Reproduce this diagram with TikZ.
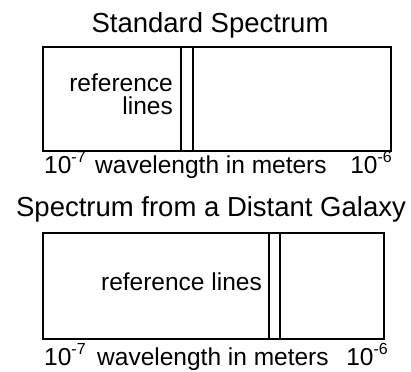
\documentclass[tikz,border=0pt]{standalone}
\usepackage{fontspec}
\setmainfont{Liberation Sans}
\usetikzlibrary{positioning}
\newcommand{\pwr}[1]{10\raisebox{0.42em}{\fontsize{16}{16}\selectfont #1}}

\begin{document}
\begin{tikzpicture}[
  x=1pt, y=-1pt,
  every node/.style={inner sep=0pt, font=\fontsize{24.5}{23}\selectfont},
  titlelbl/.style={anchor=base, font=\fontsize{27.5}{30}\selectfont},
  specbox/.style={draw, line width=2pt, anchor=north west},
  refline/.style={line width=2pt}
]
  \useasboundingbox (0,0) rectangle (411,371);

  %% Standard spectrum
  \node[titlelbl] (stdtitle) at (210,33) {Standard Spectrum};
  \node[specbox, minimum width=348pt, minimum height=104pt] (std) at (42,46) {};
  \draw[refline] (std.north -| 181,0)   -- (std.south -| 181,0);
  \draw[refline] (std.north -| 192.5,0) -- (std.south -| 192.5,0);
  \node[anchor=base east, align=right] (stdref) at (173,115) {reference\\lines};
  \node[anchor=base west] (stdlo)  at (44,173)  {\pwr{-7}};
  \node[anchor=base west] (stdwl)  at (95,173)  {wavelength in meters};
  \node[anchor=base east] (stdhi)  at (392,173) {\pwr{-6}};

  %% Distant galaxy spectrum
  \node[titlelbl] (galtitle) at (211,216.5) {Spectrum from a Distant Galaxy};
  \node[specbox, minimum width=341pt, minimum height=105.5pt] (gal) at (42,232) {};
  \draw[refline] (gal.north -| 269,0) -- (gal.south -| 269,0);
  \draw[refline] (gal.north -| 280,0) -- (gal.south -| 280,0);
  \node[anchor=base east] (galref) at (262,290) {reference lines};
  \node[anchor=base west] (gallo)  at (44,365)  {\pwr{-7}};
  \node[anchor=base west] (galwl)  at (97,365)  {wavelength in meters};
  \node[anchor=base east] (galhi)  at (388,365) {\pwr{-6}};
\end{tikzpicture}
\end{document}
